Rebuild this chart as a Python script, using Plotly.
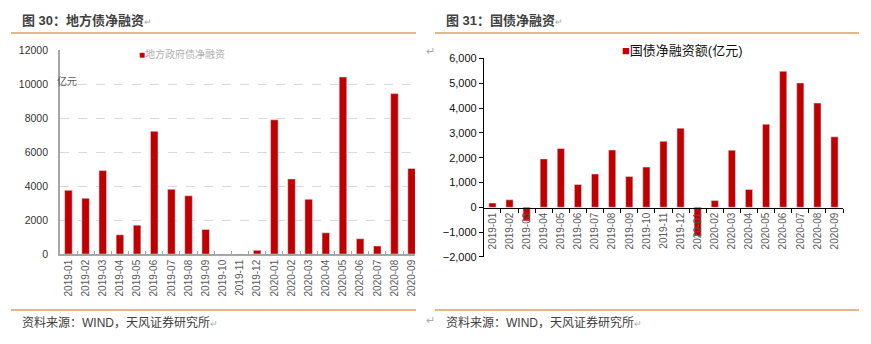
import plotly.graph_objects as go

W, H = 871, 344

months = ["2019-01", "2019-02", "2019-03", "2019-04", "2019-05", "2019-06", "2019-07",
          "2019-08", "2019-09", "2019-10", "2019-11", "2019-12", "2020-01", "2020-02",
          "2020-03", "2020-04", "2020-05", "2020-06", "2020-07", "2020-08", "2020-09"]

local_net = [3750, 3280, 4910, 1130, 1700, 7220, 3810, 3430, 1450, 0, 0, 220,
             7900, 4420, 3220, 1250, 10420, 900, 470, 9440, 5030]

treasury_net = [170, 300, -550, 1950, 2370, 920, 1340, 2310, 1240, 1620, 2660, 3190,
                -1160, 270, 2300, 720, 3350, 5480, 5010, 4200, 2840]

left_title = "图 30：地方债净融资"
right_title = "图 31：国债净融资"
left_legend = "地方政府债净融资"
right_legend = "国债净融资额(亿元)"
unit_label = "亿元"
source_text = "资料来源：WIND，天风证券研究所"

RED = "#C00000"
ORANGE = "#DDA064"
FONT = "Liberation Sans, Noto Sans CJK SC, sans-serif"


def px(x):
    return x / W


def py(y):
    return 1 - y / H


fig = go.Figure()
fig.add_trace(go.Bar(x=months, y=local_net, marker_color=RED, width=0.44,
                     xaxis="x", yaxis="y", showlegend=False))
fig.add_trace(go.Bar(x=months, y=treasury_net, marker_color=RED, width=0.42,
                     xaxis="x2", yaxis="y2", showlegend=False))

tickfont = dict(family=FONT, size=10, color="#595959")

fig.update_layout(
    width=W, height=H,
    margin=dict(l=0, r=0, t=0, b=0),
    paper_bgcolor="white", plot_bgcolor="white",
    font=dict(family=FONT, size=10, color="#333333"),
    xaxis=dict(domain=[px(60), px(416)], anchor="y", type="category",
               range=[-0.5, 20.2], showline=True, linecolor="#A6A6A6", linewidth=1.5,
               ticks="inside", tickson="boundaries", ticklen=3, tickcolor="#A6A6A6",
               tickangle=-90, tickfont=tickfont, showgrid=False, zeroline=False),
    yaxis=dict(domain=[py(257), py(45.7)], anchor="x", range=[0, 12000], dtick=2000,
               tickformat="d",
               showline=True, linecolor="#A6A6A6", linewidth=1.5, ticks="",
               showgrid=True, gridcolor="#D9D9D9", griddash="dash", gridwidth=1,
               zeroline=False, ticklabelstandoff=8,
               tickfont=dict(family=FONT, size=10.5, color="#333333")),
    xaxis2=dict(domain=[px(485), px(845)], anchor="free", position=py(209),
                type="category", range=[-0.5, 20.5], showline=True, linecolor="black",
                linewidth=1, ticks="outside", tickson="boundaries", ticklen=4,
                tickcolor="black", tickangle=-90, tickfont=tickfont, showgrid=False,
                zeroline=False),
    yaxis2=dict(domain=[py(260), py(54.3)], anchor="x2", range=[-2000, 6000], dtick=1000,
                tickformat=",", showline=True, linecolor="black", linewidth=1,
                ticks="outside", ticklen=4, tickcolor="black", showgrid=False,
                zeroline=False, tickfont=dict(family=FONT, size=11, color="#111111")),
)

shapes = []
for x0, x1 in [(11, 417), (436, 861)]:
    for yy in (28, 315):
        shapes.append(dict(type="line", xref="paper", yref="paper", x0=px(x0), x1=px(x1),
                           y0=py(yy), y1=py(yy), line=dict(color=ORANGE, width=1.3)))
fig.update_layout(shapes=shapes)

ret = "<span style='color:#AAAAAA;font-size:9px;font-weight:normal'>↵</span>"
ann = []
ann.append(dict(x=px(20), y=py(15), text="<b>" + left_title + "</b>" + ret,
                font=dict(size=13, color="#404040")))
ann.append(dict(x=px(445), y=py(15), text="<b>" + right_title + "</b>" + ret,
                font=dict(size=13, color="#404040")))
ann.append(dict(x=px(20), y=py(328), text=source_text + ret,
                font=dict(size=12, color="#404040")))
ann.append(dict(x=px(445), y=py(328), text=source_text + ret,
                font=dict(size=12, color="#404040")))
ann.append(dict(x=px(425), y=py(47), text="↵", font=dict(size=11, color="#AAAAAA")))
ann.append(dict(x=px(425), y=py(325), text="↵", font=dict(size=11, color="#AAAAAA")))
ann.append(dict(x=px(137), y=py(50),
                text="<span style='color:" + RED + "'>■</span>" + left_legend,
                font=dict(size=10, color="#B0B0B0")))
ann.append(dict(x=px(621), y=py(46),
                text="<span style='color:" + RED + "'>■</span>" + right_legend,
                font=dict(size=13, color="#111111")))
ann.append(dict(x=px(55), y=py(78), text=unit_label, font=dict(size=10, color="#595959")))
for a in ann:
    a.update(xref="paper", yref="paper", xanchor="left", yanchor="middle",
             showarrow=False)
fig.update_layout(annotations=ann)

fig.write_html("out.html")
